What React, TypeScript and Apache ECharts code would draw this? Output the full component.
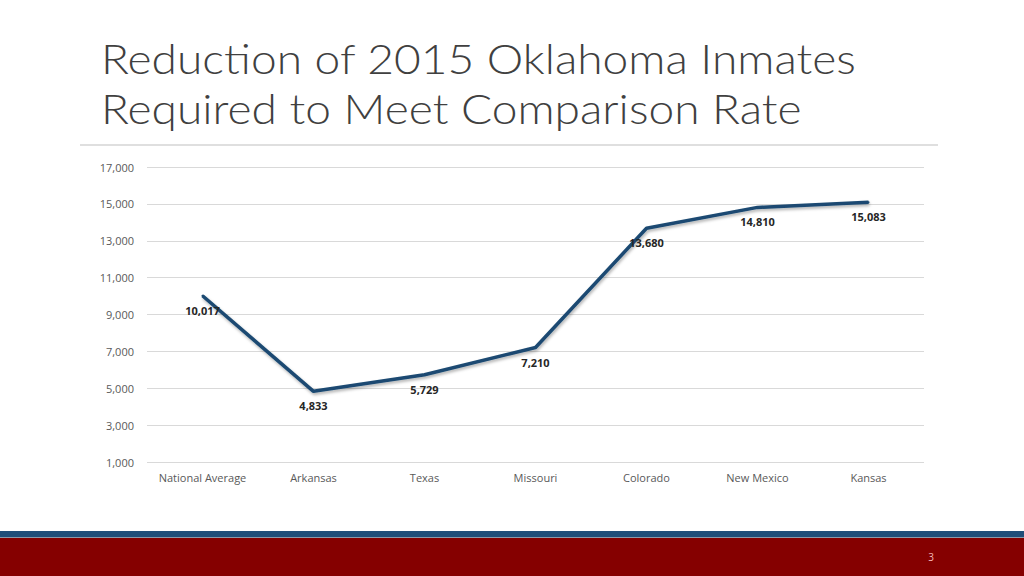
import React, { useEffect, useRef } from "react";
import * as echarts from "echarts";

const categories = ["National Average", "Arkansas", "Texas", "Missouri", "Colorado", "New Mexico", "Kansas"];
const values = [10017, 4833, 5729, 7210, 13680, 14810, 15083];
const titleLines = ["Reduction of 2015 Oklahoma Inmates", "Required to Meet Comparison Rate"];
const pageNumber = "3";

export default function App() {
  const ref = useRef<HTMLDivElement>(null);
  useEffect(() => {
    if (!ref.current) return;
    const chart = echarts.init(ref.current, null, { renderer: "svg" });
    chart.setOption({
      animation: false,
      backgroundColor: "#ffffff",
      grid: { left: 147, right: 100, top: 167, bottom: 114 },
      xAxis: {
        type: "category",
        data: categories,
        boundaryGap: true,
        axisLine: { show: false },
        axisTick: { show: false },
        axisLabel: { color: "#595959", fontFamily: "Open Sans", fontSize: 11, margin: 10, interval: 0 },
      },
      yAxis: {
        type: "value",
        min: 1000,
        max: 17000,
        interval: 2000,
        axisLine: { show: false },
        axisTick: { show: false },
        splitLine: { lineStyle: { color: "#d9d9d9", width: 1 } },
        axisLabel: {
          color: "#595959",
          fontFamily: "Open Sans",
          fontSize: 11,
          margin: 13,
          formatter: (v: number) => v.toLocaleString("en-US"),
        },
      },
      series: [
        {
          type: "line",
          data: values,
          symbol: "circle",
          symbolSize: 2,
          showSymbol: true,
          itemStyle: { color: "#1b4a72" },
          lineStyle: {
            color: "#1b4a72",
            width: 3.5,
            shadowColor: "rgba(0,0,0,0.3)",
            shadowBlur: 3,
            shadowOffsetX: 1,
            shadowOffsetY: 2,
          },
          label: {
            show: true,
            position: "bottom",
            distance: 8,
            fontFamily: "Open Sans",
            fontWeight: "bold",
            fontSize: 11,
            color: "#262626",
            formatter: (p: any) => Number(p.value).toLocaleString("en-US"),
          },
        },
      ],
      graphic: [
        {
          type: "text",
          x: 101,
          y: 38,
          scaleX: 1.125,
          style: {
            text: titleLines[0],
            font: "300 41px Lato",
            fill: "#404040",
            verticalAlign: "top",
          },
        },
        {
          type: "text",
          x: 101,
          y: 88,
          scaleX: 1.125,
          style: {
            text: titleLines[1],
            font: "300 41px Lato",
            fill: "#404040",
            verticalAlign: "top",
          },
        },
        {
          type: "line",
          shape: { x1: 80, y1: 145, x2: 938, y2: 145 },
          style: { stroke: "#bfbfbf", lineWidth: 1 },
        },
        {
          type: "rect",
          shape: { x: 0, y: 531, width: 1024, height: 6 },
          style: { fill: "#1f4e79" },
        },
        {
          type: "rect",
          shape: { x: 0, y: 537, width: 1024, height: 1 },
          style: { fill: "#8a9aaa" },
        },
        {
          type: "rect",
          shape: { x: 0, y: 538, width: 1024, height: 38 },
          style: { fill: "#850000" },
        },
        {
          type: "text",
          x: 931,
          y: 557,
          style: {
            text: pageNumber,
            font: "10px 'Open Sans'",
            fill: "#f4b8b8",
            align: "center",
            verticalAlign: "middle",
          },
        },
      ],
    });
    return () => chart.dispose();
  }, []);
  return (
    <div
      ref={ref}
      style={{ position: "absolute", left: 0, top: 0, width: 1024, height: 576 }}
    />
  );
}
